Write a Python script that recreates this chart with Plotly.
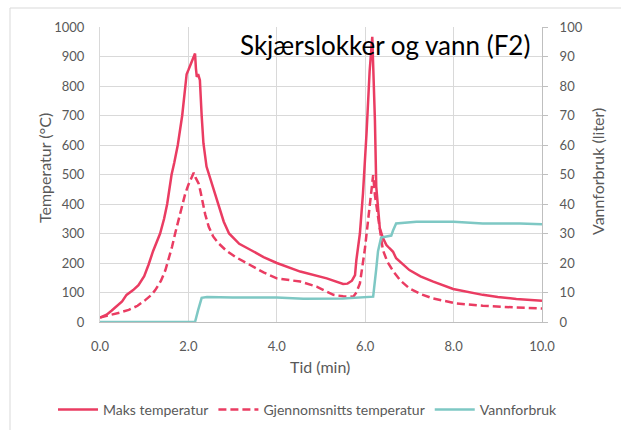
import plotly.graph_objects as go

# ---- data ----
t_max = [0, 0.15, 0.26, 0.4, 0.5, 0.6, 0.75, 0.87, 1.0, 1.1, 1.2, 1.36, 1.45, 1.52, 1.58,
         1.62, 1.68, 1.76, 1.86, 1.92, 1.96, 2.0, 2.06, 2.15, 2.17, 2.19, 2.22, 2.26, 2.3,
         2.34, 2.41, 2.49, 2.56, 2.67, 2.8, 2.92, 3.15, 3.4, 3.7, 4.0, 4.53, 5.13, 5.35, 5.5,
         5.6, 5.7, 5.77, 5.8, 5.88, 5.95, 6.03, 6.1, 6.16, 6.19, 6.22, 6.25, 6.33, 6.4, 6.48,
         6.55, 6.63, 6.7, 6.85, 7.0, 7.25, 7.54, 7.99, 8.3, 8.66, 9.0, 9.42, 10.0]
temp_max = [15, 25, 38, 55, 70, 92, 108, 125, 155, 195, 240, 300, 350, 400, 460,
            500, 540, 600, 700, 800, 840, 854, 877, 910, 860, 831, 840, 820, 700,
            606, 527, 490, 459, 400, 340, 300, 265, 245, 220, 200, 171, 148, 137, 129,
            130, 140, 159, 210, 300, 436, 640, 850, 967, 850, 685, 459, 318, 285, 261,
            250, 238, 216, 195, 176, 155, 137, 112, 102, 92, 85, 78, 72]

t_avg = [0, 0.26, 0.45, 0.65, 0.85, 1.03, 1.15, 1.25, 1.38, 1.48, 1.56, 1.63, 1.7, 1.78,
         1.86, 1.93, 2.0, 2.04, 2.12, 2.16, 2.23, 2.27, 2.31, 2.38, 2.46, 2.56, 2.68, 2.85,
         3.06, 3.4, 3.7, 4.0, 4.53, 4.9, 5.1, 5.28, 5.5, 5.73, 5.8, 5.88, 5.99, 6.1, 6.18,
         6.22, 6.29, 6.4, 6.5, 6.63, 6.8, 7.0, 7.25, 7.53, 8.06, 8.66, 9.42, 10.0]
temp_avg = [15, 24, 32, 41, 55, 75, 90, 108, 140, 176, 215, 255, 300, 346,
            390, 436, 465, 481, 506, 490, 470, 445, 414, 365, 323, 290, 267, 243,
            221, 193, 168, 148, 137, 120, 105, 92, 87, 86, 100, 131, 244, 380, 498,
            430, 357, 244, 205, 173, 140, 114, 95, 80, 63, 55, 49, 46]

t_water = [0, 2.15, 2.22, 2.30, 2.42, 3.0, 4.0, 4.6, 5.5, 6.1, 6.18, 6.25, 6.29, 6.36, 6.59,
           6.63, 6.7, 7.16, 8.0, 8.66, 9.5, 10.0]
water = [0, 0, 4, 8.2, 8.5, 8.3, 8.3, 7.9, 8.0, 8.4, 8.6, 18, 24, 28.6, 29.3,
         31, 33.4, 34.0, 34.0, 33.4, 33.4, 33.1]

x_ticks = [0, 2, 4, 6, 8, 10]
title_text = "Skjærslokker og vann (F2)"

RED = "#EA3C62"
TEAL = "#7EC8C4"
GRID = "#D9D9D9"
TXT = "#595959"
FONT = "Lato"

fig = go.Figure()
fig.add_trace(go.Scatter(x=t_max, y=temp_max, mode="lines", name="Maks temperatur",
                         line=dict(color=RED, width=2.5)))
fig.add_trace(go.Scatter(x=t_avg, y=temp_avg, mode="lines", name="Gjennomsnitts temperatur",
                         line=dict(color=RED, width=2.5, dash="8px,4px")))
fig.add_trace(go.Scatter(x=t_water, y=water, mode="lines", name="Vannforbruk", yaxis="y2",
                         line=dict(color=TEAL, width=2.5)))

L, R, T, B = 100, 79, 27, 108
W, H = 621, 430
pw, ph = W - L - R, H - T - B

def px(xp):
    return (xp - L) / pw

def py(yp):
    return (H - B - yp) / ph

fig.update_layout(
    width=W, height=H,
    margin=dict(l=L, r=R, t=T, b=B, pad=0, autoexpand=False),
    paper_bgcolor="white", plot_bgcolor="white",
    font=dict(family=FONT, color=TXT, size=13),
    showlegend=True,
    legend=dict(orientation="h", x=px(53), xanchor="left", y=py(410), yanchor="middle",
                itemwidth=40, font=dict(family=FONT, size=14, color=TXT),
                bgcolor="rgba(0,0,0,0)"),
    xaxis=dict(range=[0, 10], tickvals=x_ticks, tickformat=".1f", showgrid=True,
               gridcolor=GRID, gridwidth=1, showline=True, linecolor="#BFBFBF", linewidth=1,
               zeroline=False, ticks="", ticklabelstandoff=12,
               tickfont=dict(family=FONT, size=13, color=TXT)),
    yaxis=dict(range=[0, 1000], dtick=100, showgrid=True, gridcolor=GRID, gridwidth=1,
               showline=True, linecolor=GRID, linewidth=1, zeroline=False, ticks="",
               ticklabelstandoff=12, tickfont=dict(family=FONT, size=13, color=TXT)),
    yaxis2=dict(range=[0, 100], dtick=10, overlaying="y", side="right", showgrid=False,
                showline=True, linecolor="#BFBFBF", linewidth=1, zeroline=False,
                ticks="outside", ticklen=5, tickcolor="#BFBFBF", ticklabelstandoff=9,
                tickfont=dict(family=FONT, size=13, color=TXT)),
    annotations=[
        dict(text=title_text, xref="paper", yref="paper", x=px(532), y=py(45),
             xanchor="right", yanchor="middle", showarrow=False,
             font=dict(family=FONT, size=26, color="black")),
        dict(text="Temperatur (°C)", xref="paper", yref="paper", x=px(44), y=py(168),
             xanchor="center", yanchor="middle", textangle=-90, showarrow=False,
             font=dict(family=FONT, size=16, color=TXT)),
        dict(text="Vannforbruk (liter)", xref="paper", yref="paper", x=px(597), y=py(172),
             xanchor="center", yanchor="middle", textangle=-90, showarrow=False,
             font=dict(family=FONT, size=16, color=TXT)),
        dict(text="Tid (min)", xref="paper", yref="paper", x=px(320), y=py(366),
             xanchor="center", yanchor="middle", showarrow=False,
             font=dict(family=FONT, size=16, color=TXT)),
    ],
    shapes=[
        dict(type="rect", xref="paper", yref="paper", x0=px(10), y0=py(460), x1=px(660), y1=py(8),
             line=dict(color=GRID, width=1), fillcolor="rgba(0,0,0,0)", layer="below"),
    ],
)

fig.write_html("out.html")
